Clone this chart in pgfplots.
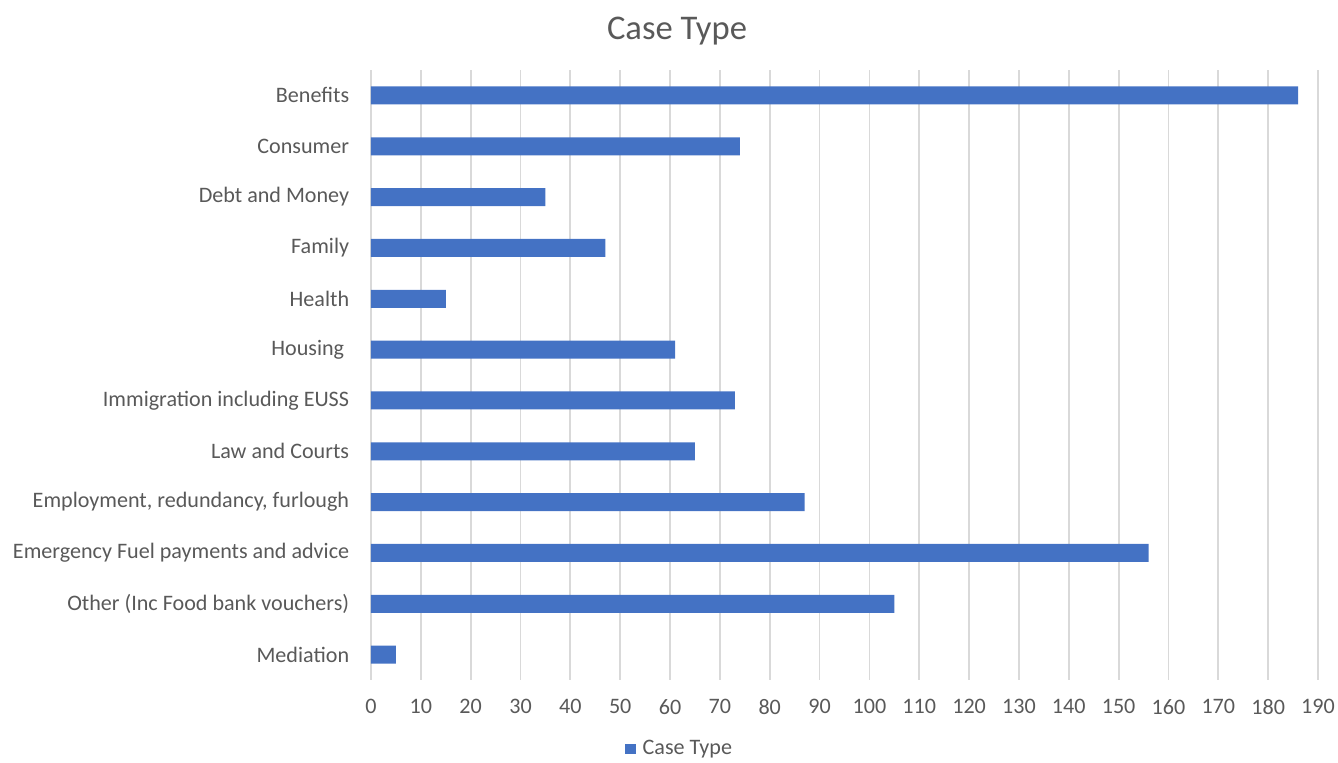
\documentclass[border=0pt]{standalone}
\usepackage{pgfplots}
\pgfplotsset{compat=1.18}
\usepackage{fontspec}
\setmainfont{Carlito}
\definecolor{barblue}{HTML}{4472C4}
\definecolor{txtgray}{HTML}{595959}
\definecolor{gridgray}{HTML}{D9D9D9}
\begin{document}
\begin{tikzpicture}
\path[use as bounding box] (-185.5pt,-41pt) rectangle (483.5pt,340pt);
\begin{axis}[
  scale only axis,
  width=473.5pt, height=305pt,
  xbar, bar width=9pt,
  xmin=0, xmax=190,
  xtick={0,10,...,190},
  ymin=-0.5, ymax=11.5,
  y dir=reverse,
  ytick={0,...,11},
  yticklabels={Benefits,Consumer,Debt and Money,Family,Health,Housing\kern2.5pt,Immigration including EUSS,Law and Courts,{Employment, redundancy, furlough},Emergency Fuel payments and advice,Other (Inc Food bank vouchers),Mediation},
  axis line style={draw=none},
  major tick length=0pt,
  xmajorgrids,
  grid style={gridgray, line width=0.9pt},
  tick label style={font=\fontsize{11.05}{13}\selectfont, text=txtgray},
  /pgf/number format/assume math mode=true,
  xticklabel style={yshift=-6pt},
  yticklabel style={xshift=-7.4pt},
  legend style={at={(0.327,-0.113)}, anchor=center, draw=none, fill=none, font=\fontsize{11.05}{13}\selectfont, text=txtgray, legend columns=-1},
  legend image code/.code={\fill[barblue] (0pt,-2.6pt) rectangle (5.2pt,2.6pt);},
]
\addplot[fill=barblue, draw=none] coordinates {
(186,0) (74,1) (35,2) (47,3) (15,4) (61,5) (73,6) (65,7) (87,8) (156,9) (105,10) (5,11)
};
\addlegendentry{\hspace{1.5pt}Case Type}
\end{axis}
\node[text=txtgray, font=\fontsize{17.3}{20}\selectfont] at (153pt,324.5pt) {Case Type};
\end{tikzpicture}
\end{document}
